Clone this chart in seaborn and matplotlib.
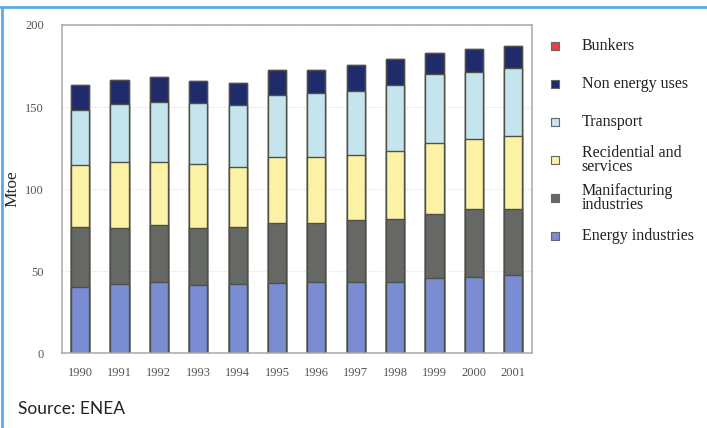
import matplotlib
matplotlib.use("Agg")
import matplotlib.pyplot as plt
from matplotlib.lines import Line2D
import numpy as np
import pandas as pd
import seaborn as sns

# values (Mtoe)
years = ["1990", "1991", "1992", "1993", "1994", "1995",
         "1996", "1997", "1998", "1999", "2000", "2001"]
energy = [40.2, 42.1, 43.3, 41.5, 42.1, 42.7, 43.3, 43.3, 43.3, 45.7, 46.3, 47.6]
manufacturing = [36.6, 34.1, 34.7, 34.7, 34.7, 36.6, 36.0, 37.8, 38.4, 39.1, 41.5, 40.2]
residential = [37.8, 40.3, 38.5, 39.0, 36.6, 40.2, 40.2, 39.6, 41.5, 43.2, 42.7, 44.5]
transport = [33.6, 35.3, 36.5, 37.2, 37.8, 37.8, 39.0, 39.1, 40.2, 42.1, 40.8, 41.5]
non_energy = [15.2, 14.7, 15.3, 13.5, 13.4, 15.3, 14.1, 15.8, 15.9, 12.8, 14.1, 13.4]
bunkers = [0, 0, 0, 0, 0, 0, 0, 0, 0, 0, 0, 0]

labels = ["Energy industries", "Manifacturing\nindustries", "Recidential and\nservices",
          "Transport", "Non energy uses", "Bunkers"]
colors = ["#7a8cd2", "#666866", "#fbf2a6", "#c4e4ee", "#1f2b6b", "#e8404a"]

df = pd.DataFrame({
    "year": years,
    labels[0]: energy,
    labels[1]: manufacturing,
    labels[2]: residential,
    labels[3]: transport,
    labels[4]: non_energy,
    labels[5]: bunkers,
})

sns.set_style("white")
plt.rcParams["font.family"] = ["Liberation Serif", "DejaVu Serif"]

fig = plt.figure(figsize=(7.07, 4.28), dpi=100)
ax = fig.add_axes([0.0877, 0.1752, 0.665, 0.7664])

# stacked bars: draw cumulative totals, tallest first
cum = df[labels].cumsum(axis=1)
for lab, col in reversed(list(zip(labels, colors))):
    sns.barplot(x=df["year"], y=cum[lab], color=col, saturation=1, width=0.46,
                edgecolor="#4f5045", linewidth=1.0, ax=ax)

ax.set_ylim(0, 200)
ax.set_xlim(-0.46, 11.48)
ax.set_yticks([0, 50, 100, 150, 200])
ax.yaxis.grid(True, color="#dcdcdc", linestyle=":", linewidth=0.8)
ax.set_axisbelow(True)
ax.set_xlabel("")
ax.set_ylabel("Mtoe", fontsize=12.5)
ax.yaxis.set_label_coords(-0.089, 0.5)
ax.tick_params(axis="both", labelsize=9, colors="#555555", length=3, pad=10)
ax.tick_params(axis="x", length=0, pad=10)
for s in ax.spines.values():
    s.set_color("#a8a8a8")
    s.set_linewidth(1.1)
ax.spines["bottom"].set_linestyle((0, (2, 1)))

# legend on the right, evenly spaced entries like the original
lax = fig.add_axes([0.7638, 0.405, 0.2362, 0.533])
lax.set_xlim(0, 1)
lax.set_ylim(-5.5, 0.5)
lax.axis("off")
for i, (lab, col) in enumerate(zip(reversed(labels), reversed(colors))):
    lax.scatter(0.09, -i, marker="s", s=30, color=col, edgecolor="#666666", linewidth=0.8)
    lax.text(0.25, -i, lab, va="center", ha="left", fontsize=11.5,
             color="#222222", linespacing=0.85)

fig.text(0.025, 0.033, "Source: ENEA", fontsize=12.5, family=["Lato", "DejaVu Sans"],
         color="#222222")

# light blue frame on top and left
fig.add_artist(Line2D([0, 1], [0.9836, 0.9836], color="#5aaae0", lw=2, transform=fig.transFigure))
fig.add_artist(Line2D([0.003, 0.003], [0, 0.9836], color="#5aaae0", lw=2, transform=fig.transFigure))

fig.savefig("out.png", dpi=100)
